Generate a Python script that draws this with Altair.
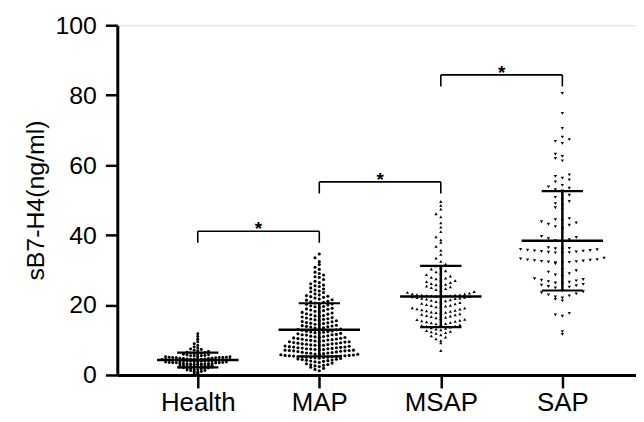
import json
import altair as alt
import pandas as pd

categories = ["Health", "MAP", "MSAP", "SAP"]

health = [
    0.6, 1.0, 1.3, 1.5, 1.7, 1.8, 1.9, 2.0, 2.1, 2.2, 2.2, 2.3, 2.4, 2.5, 2.5, 2.6, 2.7, 2.7, 2.8, 2.9,
    3.0, 3.0, 3.1, 3.1, 3.2, 3.2, 3.3, 3.3, 3.4, 3.4, 3.5, 3.5, 3.6, 3.6, 3.7, 3.7, 3.8, 3.8, 3.9, 3.9,
    4.0, 4.0, 4.0, 4.1, 4.1, 4.1, 4.2, 4.2, 4.2, 4.3, 4.3, 4.3, 4.4, 4.4, 4.4, 4.5, 4.5, 4.5, 4.6, 4.6,
    4.7, 4.7, 4.8, 4.8, 4.9, 4.9, 5.0, 5.0, 5.1, 5.1, 5.2, 5.2, 5.3, 5.4, 5.5, 5.6, 5.7, 5.8, 5.9, 6.0,
    6.1, 6.2, 6.3, 6.5, 6.7, 6.9, 7.1, 7.4, 7.7, 8.0, 8.4, 8.9, 9.5, 10.2, 11.0, 11.8,
    1.4, 2.0, 2.6, 3.2, 3.5, 4.0, 4.5, 5.0, 5.5, 6.4,
    0.5, 0.8, 1.0, 1.2, 1.6, 7.3,
]

map_values = [
    1.2, 1.6, 1.9, 2.2, 2.4, 2.6, 2.8, 2.9,
    3.0, 3.2, 3.4, 3.6, 3.8, 3.9, 4.0, 4.1, 4.2, 4.3, 4.4, 4.5, 4.6, 4.7, 4.8, 4.9,
    5.0, 5.0, 5.1, 5.1, 5.2, 5.2, 5.3, 5.3, 5.4, 5.4, 5.5, 5.5, 5.6, 5.6, 5.7, 5.8, 5.9, 6.0, 6.0, 6.1,
    6.2, 6.3, 6.3, 6.4, 6.5, 6.6, 6.7, 6.8, 6.9, 6.9,
    7.0, 7.0, 7.1, 7.1, 7.2, 7.3, 7.3, 7.4, 7.5, 7.5, 7.6, 7.7, 7.8, 7.8, 7.9, 8.0, 8.0, 8.1, 8.2, 8.3,
    8.4, 8.5, 8.5, 8.6, 8.7, 8.8, 8.9, 8.9,
    9.0, 9.1, 9.2, 9.3, 9.4, 9.5, 9.6, 9.7, 9.8, 9.9, 10.0, 10.1, 10.2, 10.3, 10.4, 10.5, 10.6, 10.7,
    10.8, 10.9, 9.5, 10.0,
    11.0, 11.1, 11.2, 11.4, 11.5, 11.6, 11.8, 11.9, 12.0, 12.1, 12.2, 12.4, 12.5, 12.6, 12.8, 12.9, 11.5, 12.3,
    13.0, 13.1, 13.3, 13.4, 13.5, 13.7, 13.8, 14.0, 14.1, 14.2, 14.4, 14.5, 14.7, 14.8, 14.9, 13.9,
    15.0, 15.2, 15.3, 15.5, 15.6, 15.8, 16.0, 16.1, 16.3, 16.4, 16.6, 16.8, 16.9, 15.9,
    17.0, 17.2, 17.4, 17.5, 17.7, 17.9, 18.0, 18.2, 18.4, 18.6, 18.8, 18.9,
    19.1, 19.3, 19.5, 19.8, 20.0, 20.2, 20.4, 20.6, 20.8, 20.9, 19.6, 20.3,
    21.1, 21.4, 21.7, 22.0, 22.2, 22.5, 22.7, 22.9, 21.5, 22.4,
    23.2, 23.6, 24.0, 24.3, 24.6, 24.9, 23.8,
    25.3, 25.7, 26.1, 26.4, 26.8, 25.5,
    27.3, 27.9, 28.6, 29.4, 30.2, 30.8, 31.6, 32.4, 33.5, 34.6, 28.1, 29.0,
]

msap = [
    7.0, 9.2, 9.8,
    10.3, 10.8, 11.2, 11.5, 11.9,
    12.1, 12.3, 12.5, 12.7, 12.9, 13.1, 13.3, 13.5, 13.7, 13.9,
    14.0, 14.1, 14.3, 14.4, 14.6, 14.7, 14.9, 15.0, 15.2, 15.3, 15.5, 15.6, 15.8, 15.9,
    16.1, 16.3, 16.5, 16.7, 16.8, 17.0, 17.2, 17.3, 17.5, 17.7, 17.8, 17.9,
    18.0, 18.2, 18.3, 18.5, 18.6, 18.8, 18.9, 19.1, 19.2, 19.4, 19.5, 19.7, 19.8, 19.9,
    20.1, 20.3, 20.5, 20.7, 20.8, 21.0, 21.2, 21.3, 21.5, 21.7, 21.8, 21.9,
    22.0, 22.1, 22.2, 22.3, 22.4, 22.5, 22.6, 22.7, 22.8, 22.9, 23.0, 23.1, 23.2, 23.4, 23.6, 23.8,
    22.5, 22.6, 22.7, 22.8,
    24.1, 24.4, 24.7, 25.0, 25.2, 25.4, 25.6, 25.8, 25.9,
    26.1, 26.4, 26.7, 27.0, 27.2, 27.5, 27.7, 27.9,
    28.3, 28.7, 29.1, 29.5, 29.8,
    30.3, 30.8, 31.2, 31.7,
    32.5, 33.4, 34.5, 35.6,
    36.8, 37.9, 38.6, 39.5,
    41.0, 42.3, 43.5,
    45.2, 46.1, 47.4, 48.5, 49.6,
]

sap = [
    80.5, 74.8, 70.5,
    66.2, 66.8, 67.3, 68.0,
    61.2, 61.9, 62.5, 63.1,
    55.2, 55.8, 56.3, 56.8, 57.2,
    52.6, 53.0, 53.4, 53.8, 54.2,
    47.2, 47.8, 48.4, 49.0, 49.6, 50.2, 50.8, 51.4,
    41.7, 42.0, 42.4, 42.8, 43.1, 43.5, 43.8, 44.1, 44.4, 44.7,
    38.1, 38.4, 38.7, 39.0, 39.3, 39.6,
    34.8, 34.9, 35.0, 35.1, 35.2, 35.3, 35.4, 35.5, 35.6, 35.7, 35.8, 35.9, 36.0, 36.1, 36.2, 36.4,
    31.8, 32.0, 32.1, 32.2, 32.3, 32.4, 32.5, 32.6, 32.7, 32.8, 32.9, 33.0, 33.2, 33.4,
    28.2, 28.6, 29.0, 29.4, 29.8, 30.2,
    24.9, 25.1, 25.3, 25.5, 25.7, 25.9, 26.1, 26.3, 26.5, 26.7, 26.9, 27.1, 27.3, 27.5,
    21.2, 21.6, 22.0, 22.3, 22.6, 22.9, 23.2, 23.5, 23.8, 24.1,
    16.8, 17.2, 17.6,
    11.6, 12.4,
]

# significance brackets (group index pairs and bracket height)
bracket_left = [0, 1, 2]
bracket_right = [1, 2, 3]
bracket_y = [41.1, 55.2, 85.8]
bracket_label = ["*", "*", "*"]

y_ticks = [0, 20, 40, 60, 80, 100]

# ---------------------------------------------------------------
W, H = 522, 352
X_DOMAIN = [-0.662, 3.606]
PX = W / (X_DOMAIN[1] - X_DOMAIN[0])  # pixels per group unit

series = [health, map_values, msap, sap]
rows = []
for gi, (name, vals) in enumerate(zip(categories, series)):
    for v in vals:
        rows.append({"group": name, "gi": gi, "value": v})
df = pd.DataFrame(rows)

bdf = pd.DataFrame({
    "l": bracket_left, "r": bracket_right, "y": bracket_y, "lab": bracket_label,
})
bdf["m"] = (bdf["l"] + bdf["r"]) / 2
bdf["y0"] = bdf["y"] - 3.3

FONT = "Liberation Sans"
xscale = alt.Scale(domain=X_DOMAIN, nice=False, zero=False)
yscale = alt.Scale(domain=[0, 100], nice=False)

label_expr = json.dumps(categories) + "[datum.value]"

x_axis = alt.Axis(values=[0, 1, 2, 3], labelExpr=label_expr, title=None, grid=False,
                  tickSize=13, tickWidth=2.5, domainWidth=3, labelFontSize=26,
                  labelPadding=2, labelFont=FONT, labelColor="black",
                  domainColor="black", tickColor="black")
y_axis = alt.Axis(values=y_ticks, title="sB7-H4(ng/ml)", grid=False, tickSize=12,
                  tickWidth=2.5, domainWidth=3, labelFontSize=25, labelPadding=9,
                  labelFont=FONT, labelColor="black", titleFont=FONT, titleFontSize=25,
                  titleFontWeight="normal", titleColor="black", titlePadding=7,
                  domainColor="black", tickColor="black")

binw = "(datum.gi == 0 ? 0.75 : datum.gi == 1 ? 1.2 : datum.gi == 2 ? 1.6 : 2.0)"
dxw = "(datum.gi == 0 ? 3.6 : datum.gi == 1 ? 4.3 : datum.gi == 2 ? 4.8 : 7.0) / %f" % PX

points = alt.Chart(df).transform_calculate(
    b=f"floor(datum.value / {binw})"
).transform_window(
    rank="row_number()", groupby=["group", "b"], sort=[alt.SortField("value", order="ascending")]
).transform_calculate(
    k="datum.rank - 1"
).transform_calculate(
    xp=f"datum.gi + (datum.k % 2 == 1 ? -1 : 1) * ceil(datum.k / 2) * {dxw}"
).mark_point(filled=True, opacity=1, color="black", strokeWidth=0).encode(
    x=alt.X("xp:Q", scale=xscale, axis=x_axis),
    y=alt.Y("value:Q", scale=yscale, axis=y_axis),
    shape=alt.Shape("group:N", scale=alt.Scale(domain=categories,
                    range=["circle", "circle", "triangle-up", "triangle-down"]), legend=None),
    size=alt.Size("group:N", scale=alt.Scale(domain=categories, range=[9, 11, 20, 18]), legend=None),
)

stats = alt.Chart(df).transform_aggregate(
    mean="mean(value)", sd="stdev(value)", groupby=["group", "gi"]
).transform_calculate(
    lo="datum.mean - datum.sd", hi="datum.mean + datum.sd",
    ml="datum.gi - 0.335", mr="datum.gi + 0.335",
    sl="datum.gi - 0.17", sr="datum.gi + 0.17",
)

mean_line = stats.mark_rule(color="black", strokeWidth=2.5).encode(
    x=alt.X("ml:Q", scale=xscale), x2="mr:Q", y=alt.Y("mean:Q", scale=yscale))
sd_hi = stats.mark_rule(color="black", strokeWidth=2.2).encode(
    x=alt.X("sl:Q", scale=xscale), x2="sr:Q", y=alt.Y("hi:Q", scale=yscale))
sd_lo = stats.mark_rule(color="black", strokeWidth=2.2).encode(
    x=alt.X("sl:Q", scale=xscale), x2="sr:Q", y=alt.Y("lo:Q", scale=yscale))
sd_v = stats.mark_rule(color="black", strokeWidth=2.5).encode(
    x=alt.X("gi:Q", scale=xscale), y=alt.Y("lo:Q", scale=yscale), y2="hi:Q")

br = alt.Chart(bdf)
b_h = br.mark_rule(color="black", strokeWidth=1.6).encode(
    x=alt.X("l:Q", scale=xscale), x2="r:Q", y=alt.Y("y:Q", scale=yscale))
b_l = br.mark_rule(color="black", strokeWidth=1.6).encode(
    x=alt.X("l:Q", scale=xscale), y=alt.Y("y:Q", scale=yscale), y2="y0:Q")
b_r = br.mark_rule(color="black", strokeWidth=1.6).encode(
    x=alt.X("r:Q", scale=xscale), y=alt.Y("y:Q", scale=yscale), y2="y0:Q")
b_t = br.mark_text(fontSize=19, font=FONT, fontWeight="bold", color="black", dy=-2,
                   baseline="middle").encode(
    x=alt.X("m:Q", scale=xscale), y=alt.Y("y:Q", scale=yscale), text="lab:N")

chart = alt.layer(points, mean_line, sd_hi, sd_lo, sd_v, b_h, b_l, b_r, b_t).properties(
    width=W, height=H,
    autosize=alt.AutoSizeParams(type="none"),
    padding={"left": 110, "top": 16, "right": 0, "bottom": 48},
).configure_view(stroke=None).configure(background="white")

chart.save("out.html", embed_options={"renderer": "svg", "actions": False})
